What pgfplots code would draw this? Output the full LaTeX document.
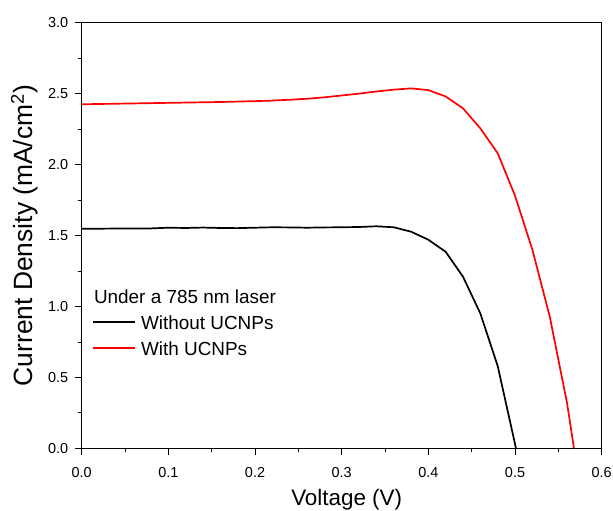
\documentclass[border=0pt]{standalone}
\usepackage{fontspec}
\setmainfont{Liberation Sans}
\usepackage{pgfplots}
\pgfplotsset{compat=1.18}
\begin{document}
\begin{tikzpicture}
\begin{axis}[
  scale only axis, width=520bp, height=425.6bp,
  xmin=0, xmax=0.6, ymin=0, ymax=3.0,
  xtick={0,0.1,0.2,0.3,0.4,0.5,0.6},
  ytick={0,0.5,1.0,1.5,2.0,2.5,3.0},
  minor x tick num=1, minor y tick num=1,
  tick align=outside, xtick pos=bottom, ytick pos=left,
  major tick length=7bp, minor tick length=4bp,
  axis line style={line width=1bp},
  every tick/.style={line width=0.8bp, black},
  /pgf/number format/.cd, fixed, fixed zerofill, precision=1, assume math mode=true,
  /pgfplots/.cd,
  ticklabel style={font=\fontsize{14.5}{17}\selectfont},
  xticklabel style={yshift=-9bp},
  yticklabel style={xshift=-3bp},
  xlabel={Voltage (V)},
  ylabel={Current Density (mA/cm\textsuperscript{2})},
  xlabel style={font=\fontsize{22.5}{26}\selectfont, yshift=-4bp, xshift=5bp},
  ylabel style={font=\fontsize{26.5}{30}\selectfont, yshift=3bp},
  legend cell align=left,
  legend style={draw=none, fill=none, at={(0.02,0.372)}, anchor=north west,
    inner sep=0pt, row sep=9bp, column sep=5bp, font=\fontsize{19}{22}\selectfont,
    nodes={inner sep=0pt, text height=13bp, text depth=4bp}},
]
\addlegendimage{empty legend}
\addlegendentry{\hspace*{-47bp}Under a 785 nm laser}
\addplot[black, line width=1.7bp,
  legend image code/.code={\draw[black, line width=1.7bp] (0bp,0.3em) -- (42bp,0.3em);}] table {
0.00 1.548
0.02 1.548
0.04 1.549
0.06 1.549
0.08 1.550
0.10 1.555
0.12 1.553
0.14 1.556
0.16 1.553
0.18 1.552
0.20 1.555
0.22 1.558
0.24 1.557
0.26 1.555
0.28 1.557
0.30 1.558
0.32 1.560
0.34 1.565
0.36 1.558
0.38 1.527
0.40 1.470
0.42 1.385
0.44 1.209
0.46 0.950
0.48 0.580
0.50 0.030
0.501 0.000
};
\addlegendentry{Without UCNPs}
\addplot[red, line width=1.7bp,
  legend image code/.code={\draw[red, line width=1.7bp] (0bp,0.3em) -- (42bp,0.3em);}] table {
0.00 2.425
0.02 2.427
0.04 2.429
0.06 2.431
0.08 2.433
0.10 2.435
0.12 2.437
0.14 2.439
0.16 2.441
0.18 2.444
0.20 2.447
0.22 2.451
0.24 2.457
0.26 2.464
0.28 2.474
0.30 2.487
0.32 2.500
0.34 2.515
0.36 2.528
0.38 2.537
0.40 2.525
0.42 2.480
0.44 2.396
0.46 2.255
0.48 2.080
0.50 1.780
0.52 1.400
0.54 0.930
0.56 0.320
0.568 0.000
};
\addlegendentry{With UCNPs}
\end{axis}
\pgfresetboundingbox
\path ([shift={(-81.7bp,-61.7bp)}]current axis.south west) rectangle ([shift={(11.3bp,22.7bp)}]current axis.north east);
\end{tikzpicture}
\end{document}
